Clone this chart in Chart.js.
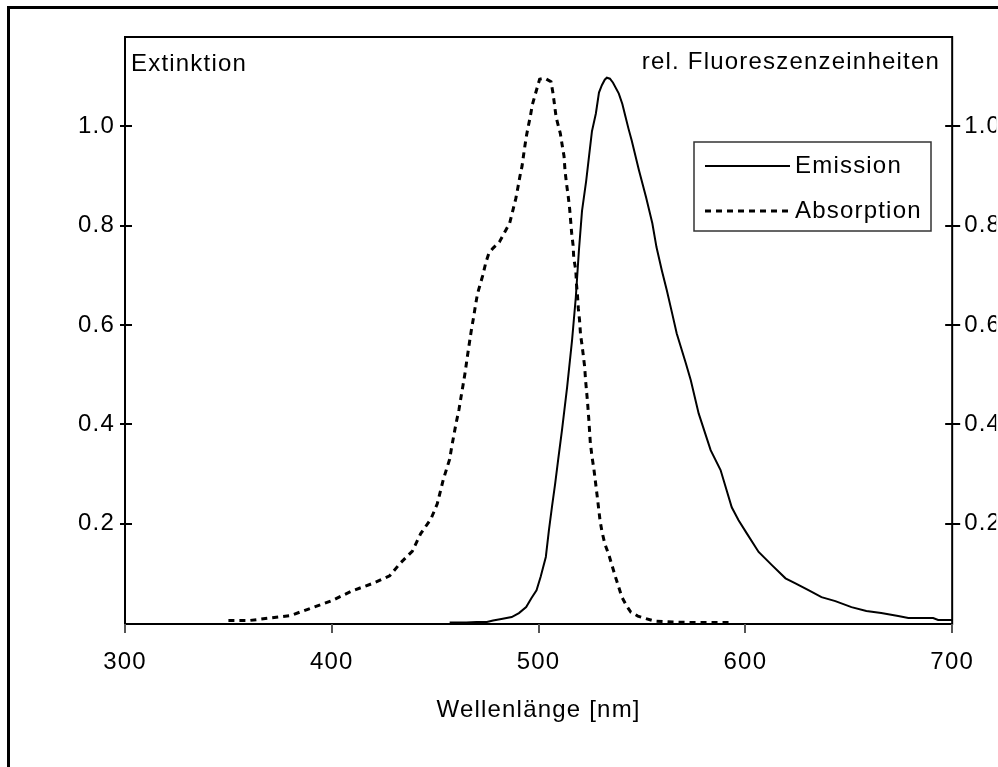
<!DOCTYPE html>
<html>
<head>
<meta charset="utf-8">
<script src="https://cdn.jsdelivr.net/npm/chart.js@4.4.0/dist/chart.umd.min.js"></script>
<style>
  html, body { margin: 0; padding: 0; background: #fff; overflow: hidden; }
  canvas { display: block; }
</style>
</head>
<body>
<canvas id="spectra" width="998" height="767"></canvas>
<script>
// Emission (solid) – wavelength [nm] / rel. fluorescence
const emNm = [457, 465, 470, 475, 478, 482, 487, 490.5, 494, 496.5, 499, 501, 503.5, 505, 506.5, 508,
  509.5, 511.3, 513.8, 516.2, 518, 519.5, 521, 523, 524.4, 525.8, 527.7, 529.2, 530.6, 532, 533, 534.5, 536,
  538.8, 540.5, 542, 543.5, 545, 548.5, 552, 555, 557, 559.6, 562, 564.5, 566.8, 571.2, 573.6, 577.4,
  583.2, 588, 593.4, 596.7, 600.6, 606.4, 612.7, 619.4, 624.2, 630.5, 636.8, 643.5, 651.3, 658.5,
  665.7, 673.9, 678.8, 690.8, 693.2, 700];
const emission = [0.001, 0.001, 0.002, 0.002, 0.005, 0.008, 0.012, 0.02, 0.032, 0.05, 0.066, 0.093, 0.133, 0.187, 0.235, 0.28,
  0.33, 0.388, 0.475, 0.57, 0.656, 0.75, 0.83, 0.89, 0.94, 0.99, 1.026, 1.068, 1.083, 1.094, 1.098, 1.096, 1.088,
  1.066, 1.045, 1.02, 0.995, 0.972, 0.912, 0.857, 0.805, 0.757, 0.71, 0.67, 0.625, 0.583, 0.523, 0.489, 0.422,
  0.348, 0.308, 0.233, 0.207, 0.181, 0.143, 0.117, 0.09, 0.08, 0.066, 0.052, 0.044, 0.032, 0.024,
  0.02, 0.014, 0.01, 0.01, 0.006, 0.006];

// Absorption (dotted) – wavelength [nm] / extinction
const absNm = [350, 360, 370, 380, 390, 400, 410, 420, 428, 433, 439, 443, 448, 451, 454, 457, 458, 460,
  461.5, 462.5, 463.5, 464.5, 465.5, 466.5, 467.5, 468.5, 469.5, 470.5, 471.5, 473, 474.5, 476, 478,
  481, 484, 486, 487.5, 489, 490, 491, 492, 493, 494, 495, 496, 497, 498.5, 500.5, 503, 506, 507,
  508.5, 510.5, 511.5, 512.3, 512.8, 513.5, 514.3, 515, 515.5, 516, 516.7, 517, 518, 518.3, 518.8,
  519.2, 519.8, 520.3, 521, 521.5, 522.3, 522.7, 523.2, 523.7, 524.2, 524.6, 525, 525.8, 526.8,
  528.5, 529.7, 530.6, 532, 534, 537, 540.3, 542.5, 544.6, 548, 551, 556, 565, 575, 585, 593];
const absorption = [0.005, 0.005, 0.01, 0.015, 0.03, 0.045, 0.065, 0.08, 0.095, 0.12, 0.145, 0.18, 0.21, 0.24, 0.29, 0.33, 0.355, 0.4,
  0.43, 0.455, 0.48, 0.505, 0.535, 0.563, 0.59, 0.614, 0.64, 0.664, 0.678, 0.7, 0.726, 0.745, 0.755,
  0.767, 0.79, 0.805, 0.83, 0.855, 0.877, 0.9, 0.92, 0.95, 0.978, 1.0, 1.02, 1.044, 1.066, 1.095, 1.097, 1.09, 1.066,
  1.018, 0.986, 0.96, 0.94, 0.91, 0.885, 0.86, 0.835, 0.81, 0.785, 0.76, 0.735, 0.71, 0.684, 0.66,
  0.634, 0.61, 0.58, 0.56, 0.543, 0.515, 0.49, 0.467, 0.443, 0.415, 0.39, 0.364, 0.336, 0.308,
  0.25, 0.207, 0.185, 0.16, 0.137, 0.095, 0.052, 0.035, 0.022, 0.014, 0.01, 0.004, 0.002, 0.001, 0.001, 0.001];

const xTicks = [300, 400, 500, 600, 700];
const yTicks = [0.2, 0.4, 0.6, 0.8, 1.0];

const font = { family: 'Arial, "Liberation Sans", sans-serif', size: 24 };
const fontStr = '24px Arial, "Liberation Sans", sans-serif';
const spacing = '1.2px';
const yMin = -0.002, yMax = 1.18;

const pts = (xs, ys) => xs.map((x, i) => ({ x, y: ys[i] }));

const decor = {
  id: 'decor',
  beforeLayout(chart) { chart.ctx.letterSpacing = spacing; },
  beforeDraw(chart) {
    const ctx = chart.ctx;
    ctx.letterSpacing = spacing;
    ctx.save();
    ctx.strokeStyle = '#000';
    ctx.lineWidth = 3;
    ctx.strokeRect(8.5, 7.5, chart.width + 20, chart.height + 20);
    ctx.restore();
  },
  afterDraw(chart) {
    const { ctx, chartArea: a, scales } = chart;
    const seg = (x1, y1, x2, y2) => { ctx.beginPath(); ctx.moveTo(x1, y1); ctx.lineTo(x2, y2); ctx.stroke(); };
    ctx.save();
    ctx.strokeStyle = '#000';
    ctx.lineWidth = 2;
    ctx.strokeRect(a.left, a.top, a.right - a.left, a.bottom - a.top);

    yTicks.forEach(v => {
      const yl = Math.round(scales.y.getPixelForValue(v));
      seg(a.left - 5, yl, a.left + 7, yl);
      const yr = Math.round(scales.y1.getPixelForValue(v));
      seg(a.right - 7, yr, a.right + 8, yr);
    });
    ctx.strokeStyle = '#555';
    xTicks.forEach(v => {
      const x = Math.round(scales.x.getPixelForValue(v));
      seg(x, a.bottom, x, a.bottom + 9);
    });

    ctx.fillStyle = '#000';
    ctx.font = fontStr;
    ctx.textBaseline = 'alphabetic';
    ctx.textAlign = 'left';
    ctx.fillText('Extinktion', 131, 71);
    ctx.textAlign = 'right';
    ctx.fillText('rel. Fluoreszenzeinheiten', 940, 69);

    // legend box
    ctx.strokeStyle = '#333';
    ctx.lineWidth = 1.5;
    ctx.strokeRect(694, 142, 237, 89);
    const rows = [{ ds: chart.data.datasets[0], y: 166 }, { ds: chart.data.datasets[1], y: 211 }];
    ctx.textAlign = 'left';
    ctx.textBaseline = 'middle';
    rows.forEach(r => {
      ctx.save();
      ctx.strokeStyle = r.ds.borderColor;
      ctx.lineWidth = r.ds.borderWidth;
      ctx.setLineDash(r.ds.borderDash || []);
      seg(705, r.y, 790, r.y);
      ctx.restore();
      ctx.fillText(r.ds.label, 795, r.y);
    });
    ctx.restore();
  }
};

new Chart(document.getElementById('spectra'), {
  type: 'line',
  data: {
    datasets: [
      {
        label: 'Emission',
        data: pts(emNm, emission),
        borderColor: '#000',
        borderWidth: 2,
        pointRadius: 0,
        tension: 0,
        yAxisID: 'y1'
      },
      {
        label: 'Absorption',
        data: pts(absNm, absorption),
        borderColor: '#000',
        borderWidth: 3,
        borderDash: [6, 5],
        pointRadius: 0,
        tension: 0,
        yAxisID: 'y'
      }
    ]
  },
  options: {
    responsive: false,
    animation: false,
    devicePixelRatio: 1,
    layout: { padding: { top: 37, left: 0, right: 0, bottom: 0 } },
    plugins: { legend: { display: false }, tooltip: { enabled: false } },
    scales: {
      x: {
        type: 'linear',
        position: 'bottom',
        min: 300,
        max: 700,
        afterBuildTicks: s => { s.ticks = xTicks.map(v => ({ value: v })); },
        afterFit: s => { s.height = 143; },
        grid: { display: false, drawTicks: false },
        border: { display: false },
        ticks: { color: '#000', font, padding: 24, maxRotation: 0 },
        title: { display: true, text: 'Wellenlänge [nm]', color: '#000', font, padding: { top: 0, bottom: 42 } }
      },
      y: {
        position: 'left',
        min: yMin,
        max: yMax,
        afterBuildTicks: s => { s.ticks = yTicks.map(v => ({ value: v })); },
        afterFit: s => { s.width = 125; },
        grid: { display: false, drawTicks: false },
        border: { display: false },
        ticks: { color: '#000', font, padding: 10, callback: v => v.toFixed(1) }
      },
      y1: {
        position: 'right',
        min: yMin,
        max: yMax,
        afterBuildTicks: s => { s.ticks = yTicks.map(v => ({ value: v })); },
        afterFit: s => { s.width = 44; },
        grid: { display: false, drawTicks: false },
        border: { display: false },
        ticks: { color: '#000', font, padding: 12, callback: v => v.toFixed(1) }
      }
    }
  },
  plugins: [decor]
});
</script>
</body>
</html>
